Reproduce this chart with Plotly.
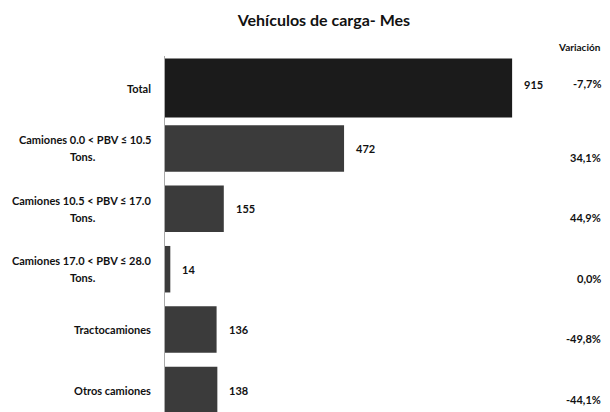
import plotly.graph_objects as go

categories = [
    "Total",
    "Camiones 0.0 < PBV ≤ 10.5<br>Tons.",
    "Camiones 10.5 < PBV ≤ 17.0<br>Tons.",
    "Camiones 17.0 < PBV ≤ 28.0<br>Tons.",
    "Tractocamiones",
    "Otros camiones",
]
values = [915, 472, 155, 14, 136, 138]
variations = ["-7,7%", "34,1%", "44,9%", "0,0%", "-49,8%", "-44,1%"]
title_text = "Vehículos de carga- Mes"
variation_header = "Variación"

FONT = "Lato"
colors = ["#1b1b1b"] + ["#3b3b3b"] * (len(values) - 1)
widths = [0.98] + [0.77] * (len(values) - 1)
idx = list(range(len(categories)))

fig = go.Figure()
fig.add_trace(go.Bar(
    x=values, y=idx, orientation="h",
    marker=dict(color=colors, line=dict(width=0)),
    width=widths, hoverinfo="skip",
))

LINE_GAP = 17
annotations = []
for i, (cat, v, var) in enumerate(zip(categories, values, variations)):
    lines = cat.split("<br>")
    n = len(lines)
    for k, line in enumerate(lines):
        annotations.append(dict(
            x=0, xref="paper", y=i, yref="y", text=f"<b>{line}</b>",
            xanchor="center" if k > 0 else "right", yanchor="middle",
            xshift=-12 if k == 0 else 0,
            yshift=((n - 1) / 2 - k) * LINE_GAP,
            showarrow=False, font=dict(family=FONT, size=11, color="#111111"),
        ))
    if n > 1:
        # center subsequent lines under the first line: approximate by matching anchor
        pass
    annotations.append(dict(
        x=v, xref="x", y=i, yref="y", text=f"<b>{v}</b>",
        xanchor="left", yanchor="middle", xshift=10, yshift=4 if i == 0 else 0,
        showarrow=False, font=dict(family=FONT, size=11, color="#111111"),
    ))
    annotations.append(dict(
        x=0.985, xref="paper", y=i, yref="y", text=f"<b>{var}</b>",
        xanchor="right", yanchor="middle", yshift=5 if i == 0 else -9,
        showarrow=False, font=dict(family=FONT, size=11, color="#111111"),
    ))

annotations.append(dict(
    x=0.985, xref="paper", y=1 + (56 - 47) / 356, yref="paper", yanchor="middle",
    text=f"<b>{variation_header}</b>", xanchor="right", showarrow=False,
    font=dict(family=FONT, size=10, color="#111111"),
))

# second lines of wrapped labels: center them under the first line (first line spans ~17..151 px)
for a in annotations:
    if a.get("xanchor") == "center" and a.get("xref") == "paper" and a.get("x") == 0:
        a["xshift"] = -82

fig.update_layout(
    width=610, height=412,
    margin=dict(l=165, r=0, t=56, b=0),
    paper_bgcolor="white", plot_bgcolor="white",
    showlegend=False,
    title=dict(text=f"<b>{title_text}</b>", x=0.531, xanchor="center", y=0.95, yanchor="middle",
               font=dict(family=FONT, size=16, color="#111111")),
    xaxis=dict(range=[0, 1173], visible=False, fixedrange=True),
    yaxis=dict(range=[5.364, -0.53], showticklabels=False, showgrid=False, zeroline=False,
               showline=True, linecolor="#aaaaaa", linewidth=1, fixedrange=True),
    annotations=annotations,
)

fig.write_html("out.html", post_script="document.body.style.margin='0';",
               config={"displayModeBar": False})
